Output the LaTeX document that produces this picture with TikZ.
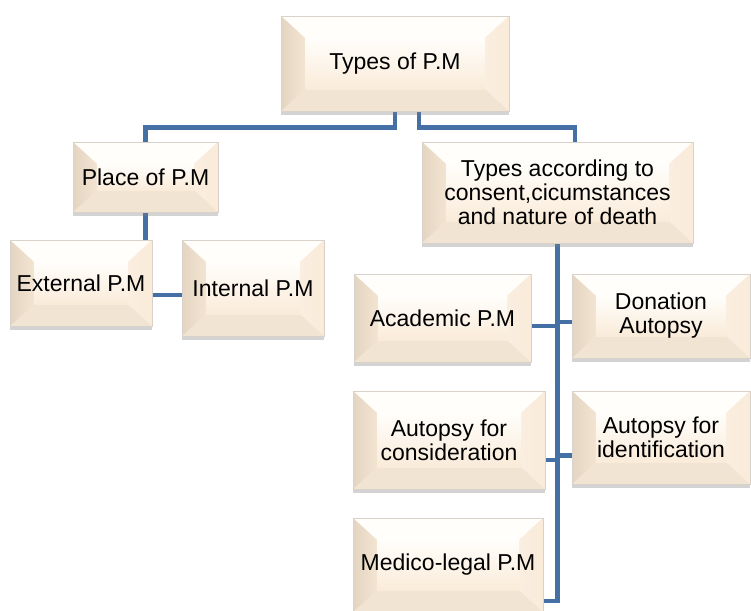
\documentclass[tikz,border=0pt]{standalone}
\usepackage{fontspec}
\setmainfont{Liberation Sans}
\usepackage{tikz}
\usetikzlibrary{shadows}
\usepackage{xcolor}

\definecolor{boxcream}{HTML}{FAEBD9}
\definecolor{boxlight}{HTML}{FFFEFB}
\definecolor{boxedge}{HTML}{D9D2CA}
\definecolor{bevleft}{HTML}{E3D5C1}
\definecolor{bevright}{HTML}{FAEEE0}
\definecolor{bevbottom}{HTML}{F1E4D2}
\definecolor{linkblue}{HTML}{4470A6}

\pgfdeclarelayer{background}
\pgfsetlayers{background,main}

\tikzset{
	pmbox/.style={draw=boxedge, line width=.6pt, fill=boxcream,
		align=center, inner sep=2pt, font=\fontsize{23}{24}\selectfont,
		drop shadow={opacity=.35, shadow xshift=0pt, shadow yshift=-4pt},
		path picture={
			\coordinate (nw) at (path picture bounding box.north west);
			\coordinate (ne) at (path picture bounding box.north east);
			\coordinate (sw) at (path picture bounding box.south west);
			\coordinate (se) at (path picture bounding box.south east);
			\fill[bevbottom] (sw) -- (se) -- ([shift={(-24pt,22pt)}]se) -- ([shift={(24pt,22pt)}]sw) -- cycle;
			\fill[boxlight] (nw) -- (ne) -- ([shift={(-24pt,-22pt)}]ne) -- ([shift={(24pt,-22pt)}]nw) -- cycle;
			\shade[left color=bevleft, right color=boxcream!70!bevleft] (nw) -- (sw) -- ([shift={(24pt,22pt)}]sw) -- ([shift={(24pt,-22pt)}]nw) -- cycle;
			\shade[left color=bevright, right color=boxcream] (ne) -- (se) -- ([shift={(-24pt,22pt)}]se) -- ([shift={(-24pt,-22pt)}]ne) -- cycle;
			\shade[top color=boxlight, bottom color=boxcream] ([shift={(24pt,-22pt)}]nw) rectangle ([shift={(-24pt,22pt)}]se);
		}},
	link/.style={draw=linkblue, line width=4.5pt},
}

\begin{document}
\begin{tikzpicture}[x=1pt, y=-1pt]
		\useasboundingbox (0,0) rectangle (751,610);
		\node[pmbox, minimum width=228pt, minimum height=95pt] (top) at (395,63.5) {Types of P.M};
		\node[pmbox, minimum width=145pt, minimum height=70pt] (place) at (145.5,177) {Place of P.M};
		\node[pmbox, minimum width=271pt, minimum height=101pt] (types) at (557.5,192.5) {Types according to\\consent,cicumstances\\and nature of death};
		\node[pmbox, minimum width=142pt, minimum height=86pt] (ext) at (81,283) {External P.M};
		\node[pmbox, minimum width=142pt, minimum height=96pt] (int) at (253,288) {Internal P.M};
		\node[pmbox, minimum width=177pt, minimum height=88pt] (acad) at (442.5,318) {Academic P.M};
		\node[pmbox, minimum width=178pt, minimum height=84pt] (don) at (661,316) {Donation\\Autopsy};
		\node[pmbox, minimum width=192pt, minimum height=98pt] (cons) at (449,440) {Autopsy for\\consideration};
		\node[pmbox, minimum width=178pt, minimum height=93pt] (ident) at (661,437.5) {Autopsy for\\identification};
		\node[pmbox, minimum width=190pt, minimum height=94pt] (med) at (448,565) {Medico-legal P.M};

		% connectors behind the boxes
		\begin{pgfonlayer}{background}
		\draw[link] (top.south) -- ++(0,16) -| (place.north);
		\draw[link] ([xshift=24pt]top.south) -- ++(0,16) -| ([xshift=17.5pt]types.north);
		\draw[link] (place.south) |- ([yshift=-7pt]int.west);
		\draw[link] (types.south) |- ([yshift=-36pt]med.east);
		\draw[link] ([yshift=-8pt]acad.east) -| (types.south);
		\draw[link] ([yshift=-6pt]don.west) -| (types.south);
		\draw[link] ([yshift=-20pt]cons.east) -| (types.south);
		\draw[link] ([yshift=-18pt]ident.west) -| (types.south);
		\end{pgfonlayer}
\end{tikzpicture}
\end{document}
